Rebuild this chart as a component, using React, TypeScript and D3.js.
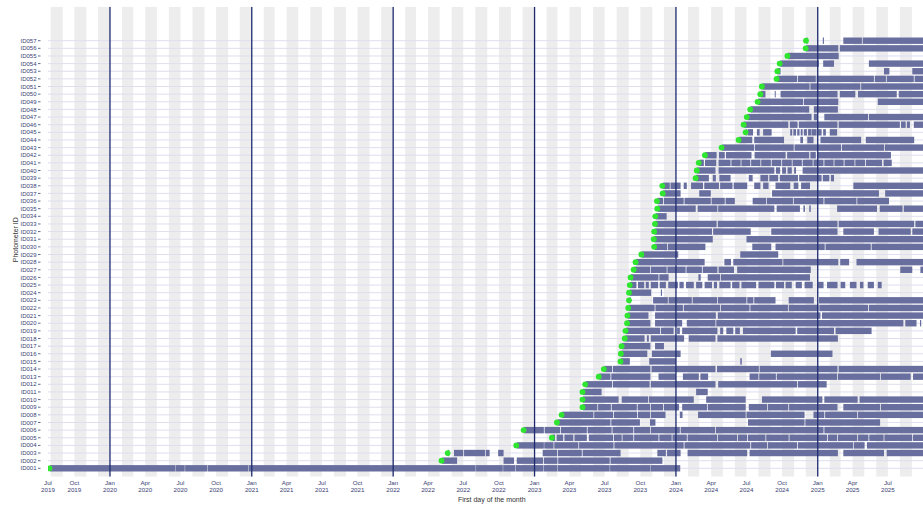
import React from "react";
import * as d3 from "d3";

type Seg = [string, string];

const ID_LABELS = [
  "ID001","ID002","ID003","ID004","ID005","ID006","ID007","ID008","ID009","ID010",
  "ID011","ID012","ID013","ID014","ID015","ID016","ID017","ID018","ID019","ID020",
  "ID021","ID022","ID023","ID024","ID025","ID026","ID027","ID028","ID029","ID030",
  "ID031","ID032","ID033","ID034","ID035","ID036","ID037","ID038","ID039","ID040",
  "ID041","ID042","ID043","ID044","ID045","ID046","ID047","ID048","ID049","ID050",
  "ID051","ID052","ID053","ID054","ID055","ID056","ID057",
];

const ID001: Seg[] = [["2019-07-30","2020-06-16"],["2020-06-18","2020-07-11"],["2020-07-13","2020-09-07"],["2020-09-09","2020-12-22"],["2020-12-24","2022-08-01"],["2022-08-03","2022-10-10"],["2022-10-12","2022-11-11"],["2022-11-13","2023-01-22"],["2023-01-24","2023-02-28"],["2023-03-02","2023-07-13"],["2023-07-15","2023-10-25"],["2023-10-27","2024-01-11"]];
const ID002: Seg[] = [["2022-05-07","2022-06-14"],["2022-10-13","2022-11-08"],["2022-11-16","2023-01-22"],["2023-01-25","2023-02-28"],["2023-03-03","2023-07-13"],["2023-07-16","2023-11-26"]];
const ID003: Seg[] = [["2022-05-23","2022-05-24"],["2022-06-07","2022-06-30"],["2022-07-03","2022-08-25"],["2022-08-28","2022-09-06"],["2022-09-29","2022-10-12"],["2023-01-22","2023-02-27"],["2023-03-02","2023-05-02"],["2023-05-05","2023-08-10"],["2023-11-14","2023-12-05"],["2023-12-09","2024-01-12"],["2024-01-31","2024-07-02"],["2024-07-09","2025-02-21"],["2025-03-08","2025-06-20"],["2025-06-28","2025-09-30"]];
const ID004: Seg[] = [["2022-11-16","2023-01-24"],["2023-01-26","2023-02-18"],["2023-02-21","2023-04-23"],["2023-04-26","2023-07-23"],["2023-07-26","2024-01-20"],["2024-01-23","2024-07-10"],["2024-07-13","2024-08-22"],["2024-08-25","2024-11-08"],["2024-11-11","2025-04-01"],["2025-04-04","2025-05-01"],["2025-05-08","2025-09-30"]];
const ID005: Seg[] = [["2023-02-16","2023-02-22"],["2023-02-27","2023-03-15"],["2023-03-19","2023-04-10"],["2023-04-14","2023-05-15"],["2023-05-21","2023-07-22"],["2023-07-25","2023-08-13"],["2023-08-16","2023-09-12"],["2023-09-15","2023-11-16"],["2023-11-19","2023-12-20"],["2023-12-23","2024-01-28"],["2024-01-31","2024-04-15"],["2024-04-18","2024-06-06"],["2024-06-09","2024-07-02"],["2024-07-05","2024-08-18"],["2024-08-21","2024-10-17"],["2024-10-20","2025-01-24"],["2025-01-27","2025-02-19"],["2025-02-22","2025-04-12"],["2025-04-15","2025-05-11"],["2025-05-14","2025-06-19"],["2025-06-22","2025-09-01"],["2025-09-04","2025-09-30"]];
const ID006: Seg[] = [["2022-12-05","2023-01-24"],["2023-01-27","2023-03-07"],["2023-03-10","2023-05-15"],["2023-05-18","2023-07-18"],["2023-07-21","2023-09-12"],["2023-09-15","2023-10-25"],["2023-10-28","2024-01-10"],["2024-01-13","2024-04-10"],["2024-04-13","2025-01-15"],["2025-01-18","2025-09-30"]];
const ID007: Seg[] = [["2023-03-01","2023-07-15"],["2023-07-18","2023-09-29"],["2023-10-26","2023-11-08"],["2024-07-05","2024-11-27"],["2024-11-30","2025-06-10"]];
const ID008: Seg[] = [["2023-03-13","2023-06-01"],["2023-06-04","2023-07-22"],["2023-07-25","2023-09-22"],["2023-09-25","2023-10-25"],["2023-10-28","2023-12-04"],["2024-01-11","2024-01-17"],["2024-02-27","2024-06-28"],["2024-07-01","2024-11-27"],["2024-12-21","2025-01-17"],["2025-01-20","2025-04-12"],["2025-04-15","2025-09-30"]];
const ID009: Seg[] = [["2023-05-06","2023-06-11"],["2023-06-14","2023-07-16"],["2023-07-19","2023-09-21"],["2023-09-24","2023-10-25"],["2023-10-28","2023-11-28"],["2023-12-01","2024-01-08"],["2024-01-17","2024-03-20"],["2024-03-23","2024-06-28"],["2024-07-07","2024-08-22"],["2024-08-25","2024-10-16"],["2024-10-19","2025-02-20"],["2025-03-08","2025-06-10"],["2025-06-13","2025-09-30"]];
const ID010: Seg[] = [["2023-05-06","2023-08-05"],["2023-08-14","2023-10-20"],["2023-10-23","2024-02-15"],["2024-03-19","2024-06-28"],["2024-08-10","2025-01-12"],["2025-01-18","2025-04-13"],["2025-04-19","2025-09-30"]];
const ID011: Seg[] = [["2023-05-06","2023-06-22"],["2024-02-22","2024-03-22"]];
const ID012: Seg[] = [["2023-05-13","2023-07-19"],["2023-07-22","2023-10-24"],["2023-10-28","2024-04-11"],["2024-04-19","2024-11-08"],["2024-11-11","2025-01-23"]];
const ID013: Seg[] = [["2023-06-17","2023-07-15"],["2023-07-18","2023-10-26"],["2023-11-17","2023-12-31"],["2024-01-19","2024-02-28"],["2024-03-04","2024-03-23"],["2024-07-09","2024-07-31"],["2024-08-03","2024-09-14"],["2024-09-17","2025-02-19"],["2025-02-22","2025-06-10"],["2025-06-13","2025-08-28"],["2025-09-04","2025-09-30"]];
const ID014: Seg[] = [["2023-06-30","2023-07-19"],["2023-07-22","2023-10-26"],["2023-10-30","2024-04-11"],["2024-04-16","2024-08-01"],["2024-08-04","2025-02-20"],["2025-02-24","2025-09-30"]];
const ID015: Seg[] = [["2023-08-12","2023-09-03"],["2023-10-24","2023-12-31"],["2024-06-15","2024-06-18"]];
const ID016: Seg[] = [["2023-08-13","2023-10-18"],["2023-10-31","2024-01-12"],["2024-09-02","2025-02-07"]];
const ID017: Seg[] = [["2023-08-15","2023-10-26"],["2023-11-08","2023-11-30"]];
const ID018: Seg[] = [["2023-08-23","2023-10-11"],["2023-10-18","2023-10-22"],["2023-10-28","2024-01-21"],["2024-02-03","2024-04-11"],["2024-04-17","2025-02-21"]];
const ID019: Seg[] = [["2023-08-25","2023-11-20"],["2023-11-23","2023-12-25"],["2024-01-04","2024-01-10"],["2024-01-17","2024-04-16"],["2024-04-24","2024-05-01"],["2024-05-10","2024-05-27"],["2024-06-02","2024-06-13"],["2024-06-22","2024-11-04"],["2024-11-09","2025-02-11"],["2025-02-16","2025-05-19"]];
const ID020: Seg[] = [["2023-08-29","2023-10-26"],["2023-11-08","2024-01-16"],["2024-01-29","2024-04-11"],["2024-04-14","2025-08-09"],["2025-08-15","2025-09-12"],["2025-09-22","2025-09-24"]];
const ID021: Seg[] = [["2023-08-30","2023-10-21"],["2023-11-08","2024-04-12"],["2024-04-18","2025-01-07"],["2025-01-12","2025-09-30"]];
const ID022: Seg[] = [["2023-09-01","2023-11-06"],["2023-11-09","2024-01-18"],["2024-01-21","2024-04-23"],["2024-04-26","2024-07-08"],["2024-07-11","2024-10-15"],["2024-10-18","2025-01-02"],["2025-01-05","2025-05-10"],["2025-05-13","2025-09-30"]];
const ID023: Seg[] = [["2023-09-03","2023-09-04"],["2023-11-03","2023-12-10"],["2023-12-13","2024-02-10"],["2024-02-13","2024-04-15"],["2024-04-18","2024-06-30"],["2024-07-03","2024-07-18"],["2024-07-21","2024-09-13"],["2024-10-18","2024-12-21"],["2025-01-04","2025-09-30"]];
const ID024: Seg[] = [["2023-09-03","2023-10-28"],["2023-11-23","2023-11-25"]];
const ID025: Seg[] = [["2023-09-05","2023-09-20"],["2023-09-25","2023-10-10"],["2023-10-15","2023-10-22"],["2023-10-28","2023-11-15"],["2023-11-20","2023-12-05"],["2023-12-12","2024-01-05"],["2024-01-10","2024-01-20"],["2024-01-27","2024-02-15"],["2024-02-22","2024-03-08"],["2024-03-15","2024-04-02"],["2024-04-08","2024-04-15"],["2024-04-22","2024-05-20"],["2024-05-25","2024-06-12"],["2024-06-18","2024-07-25"],["2024-08-01","2024-09-10"],["2024-09-15","2024-10-05"],["2024-10-10","2024-10-25"],["2024-11-05","2024-11-20"],["2024-11-28","2024-12-18"],["2025-01-02","2025-01-15"],["2025-01-25","2025-02-20"],["2025-03-01","2025-03-12"],["2025-03-25","2025-04-10"],["2025-04-20","2025-04-28"],["2025-05-10","2025-05-25"],["2025-06-05","2025-06-14"]];
const ID026: Seg[] = [["2023-09-07","2023-11-16"],["2023-11-19","2023-12-12"],["2024-02-28","2024-03-04"],["2024-03-23","2024-04-23"],["2024-04-26","2024-12-11"]];
const ID027: Seg[] = [["2023-09-15","2023-10-25"],["2023-10-28","2023-12-07"],["2023-12-10","2024-01-25"],["2024-01-28","2024-03-07"],["2024-03-10","2024-04-16"],["2024-04-20","2024-05-29"],["2024-06-07","2024-12-13"],["2025-08-02","2025-09-01"],["2025-09-23","2025-09-30"]];
const ID028: Seg[] = [["2023-09-20","2023-12-29"],["2024-01-02","2024-03-14"],["2024-05-05","2024-05-21"],["2024-05-28","2024-10-01"],["2024-10-04","2025-02-22"],["2025-02-28","2025-03-22"],["2025-04-11","2025-09-30"]];
const ID029: Seg[] = [["2023-10-05","2024-01-06"],["2024-06-15","2024-09-20"]];
const ID030: Seg[] = [["2023-11-07","2023-12-08"],["2023-12-11","2024-03-16"],["2024-07-16","2024-09-02"],["2024-09-14","2025-01-18"],["2025-01-21","2025-05-17"],["2025-05-20","2025-09-30"]];
const ID031: Seg[] = [["2023-11-06","2024-04-04"],["2024-07-01","2025-09-30"]];
const ID032: Seg[] = [["2023-11-07","2024-04-02"],["2024-04-06","2024-07-11"],["2024-09-03","2025-02-20"],["2025-03-08","2025-05-25"],["2025-06-07","2025-08-28"],["2025-09-02","2025-09-30"]];
const ID033: Seg[] = [["2023-11-09","2024-04-14"],["2024-04-18","2025-02-20"],["2025-02-24","2025-09-06"],["2025-09-10","2025-09-30"]];
const ID034: Seg[] = [["2023-11-10","2023-12-07"]];
const ID035: Seg[] = [["2023-11-15","2024-02-20"],["2024-02-26","2024-04-16"],["2024-04-19","2024-09-10"],["2024-09-17","2024-11-15"],["2024-11-25","2024-11-28"],["2024-12-10","2024-12-13"],["2025-02-20","2025-06-02"],["2025-06-10","2025-08-07"],["2025-08-11","2025-09-30"]];
const ID036: Seg[] = [["2023-11-14","2023-11-28"],["2023-12-01","2024-01-20"],["2024-01-23","2024-03-30"],["2024-04-02","2024-05-05"],["2024-05-08","2024-05-31"],["2024-07-17","2024-08-20"],["2024-08-23","2024-10-28"],["2024-10-31","2025-01-15"],["2025-01-18","2025-04-10"],["2025-04-13","2025-07-03"]];
const ID037: Seg[] = [["2023-11-29","2024-01-12"],["2024-03-01","2024-03-30"],["2024-09-05","2025-06-07"],["2025-06-24","2025-09-30"]];
const ID038: Seg[] = [["2023-11-28","2023-12-15"],["2023-12-18","2024-01-12"],["2024-01-21","2024-01-28"],["2024-02-09","2024-03-10"],["2024-03-14","2024-04-20"],["2024-04-24","2024-05-25"],["2024-05-29","2024-07-02"],["2024-07-21","2024-08-05"],["2024-08-13","2024-08-26"],["2024-09-14","2024-10-21"],["2024-10-31","2024-11-11"],["2024-11-19","2024-12-11"],["2025-04-03","2025-09-30"]];
const ID039: Seg[] = [["2024-02-22","2024-03-25"],["2024-04-05","2024-04-12"],["2024-04-22","2024-05-20"],["2024-07-07","2024-07-16"],["2024-08-06","2024-08-25"],["2024-08-29","2024-09-20"],["2024-09-25","2024-11-10"],["2024-11-14","2025-01-10"],["2025-01-14","2025-01-30"],["2025-02-04","2025-02-11"]];
const ID040: Seg[] = [["2024-02-25","2024-04-11"],["2024-04-20","2024-09-10"],["2024-09-15","2024-09-25"],["2024-10-01","2024-10-10"],["2024-10-15","2024-10-25"],["2024-11-01","2024-11-05"],["2024-11-23","2025-09-30"]];
const ID041: Seg[] = [["2024-03-01","2024-03-12"],["2024-03-16","2024-04-13"],["2024-04-20","2024-05-20"],["2024-05-23","2024-06-15"],["2024-06-18","2024-07-10"],["2024-07-13","2024-08-05"],["2024-08-08","2024-09-01"],["2024-09-04","2024-09-28"],["2024-10-01","2024-10-25"],["2024-10-28","2024-11-20"],["2024-11-23","2024-12-18"],["2024-12-21","2025-01-15"],["2025-01-18","2025-02-10"],["2025-02-13","2025-03-08"],["2025-03-11","2025-04-05"],["2025-04-08","2025-05-02"],["2025-05-05","2025-06-15"],["2025-06-20","2025-07-10"]];
const ID042: Seg[] = [["2024-03-17","2024-04-14"],["2024-04-21","2024-05-05"],["2024-05-09","2024-07-13"],["2024-07-22","2024-10-09"],["2024-10-14","2024-12-09"],["2024-12-13","2024-12-26"],["2025-01-01","2025-07-08"]];
const ID043: Seg[] = [["2024-04-29","2024-07-20"],["2024-07-23","2024-10-30"],["2024-11-02","2025-03-01"],["2025-03-04","2025-06-20"],["2025-06-23","2025-09-30"]];
const ID044: Seg[] = [["2024-06-12","2024-07-15"],["2024-07-21","2024-10-05"],["2024-11-17","2024-11-23"],["2024-12-05","2024-12-20"],["2025-01-08","2025-04-22"],["2025-05-05","2025-09-06"]];
const ID045: Seg[] = [["2024-06-30","2024-07-01"],["2024-07-04","2024-07-17"],["2024-07-28","2024-08-03"],["2024-08-13","2024-09-03"],["2024-10-22","2024-10-26"],["2024-10-30","2024-11-05"],["2024-11-09","2024-11-14"],["2024-11-18","2024-11-22"],["2024-11-26","2024-12-03"],["2024-12-07","2024-12-14"],["2024-12-16","2024-12-28"],["2025-01-02","2025-01-10"],["2025-01-15","2025-01-21"],["2025-02-01","2025-02-19"]];
const ID046: Seg[] = [["2024-06-25","2024-10-16"],["2024-10-21","2024-11-09"],["2024-11-13","2025-02-20"],["2025-02-24","2025-07-31"],["2025-08-04","2025-08-15"],["2025-08-19","2025-08-26"],["2025-09-06","2025-09-30"]];
const ID047: Seg[] = [["2024-07-03","2024-12-15"],["2024-12-22","2024-12-30"],["2025-01-18","2025-05-10"],["2025-05-13","2025-09-30"]];
const ID048: Seg[] = [["2024-07-12","2024-12-09"],["2024-12-22","2025-02-21"]];
const ID049: Seg[] = [["2024-07-31","2024-11-23"],["2024-11-26","2025-02-22"],["2025-06-05","2025-09-30"]];
const ID050: Seg[] = [["2024-08-07","2024-08-18"],["2024-09-12","2024-09-13"],["2024-09-27","2025-02-20"],["2025-02-27","2025-04-07"],["2025-04-15","2025-07-23"],["2025-07-29","2025-09-30"]];
const ID051: Seg[] = [["2024-08-11","2024-12-10"],["2024-12-13","2025-04-20"],["2025-04-23","2025-09-30"]];
const ID052: Seg[] = [["2024-09-18","2024-11-08"],["2024-11-11","2024-12-26"],["2024-12-29","2025-05-25"],["2025-05-28","2025-06-25"],["2025-06-28","2025-09-05"],["2025-09-08","2025-09-30"]];
const ID053: Seg[] = [["2024-09-20","2024-09-26"],["2025-06-21","2025-07-04"],["2025-09-02","2025-09-30"]];
const ID054: Seg[] = [["2024-09-26","2025-01-03"],["2025-01-15","2025-02-11"],["2025-05-13","2025-09-30"]];
const ID055: Seg[] = [["2024-10-16","2025-02-23"]];
const ID056: Seg[] = [["2024-12-02","2025-02-22"],["2025-02-27","2025-09-30"]];
const ID057: Seg[] = [["2024-12-03","2024-12-04"],["2025-01-14","2025-01-16"],["2025-03-08","2025-04-24"],["2025-04-27","2025-09-30"]];

const SERIES: Seg[][] = [
  ID001,ID002,ID003,ID004,ID005,ID006,ID007,ID008,ID009,ID010,
  ID011,ID012,ID013,ID014,ID015,ID016,ID017,ID018,ID019,ID020,
  ID021,ID022,ID023,ID024,ID025,ID026,ID027,ID028,ID029,ID030,
  ID031,ID032,ID033,ID034,ID035,ID036,ID037,ID038,ID039,ID040,
  ID041,ID042,ID043,ID044,ID045,ID046,ID047,ID048,ID049,ID050,
  ID051,ID052,ID053,ID054,ID055,ID056,ID057,
];

const TICK_DATES = [
  "2019-07-01","2019-10-01","2020-01-01","2020-04-01","2020-07-01","2020-10-01",
  "2021-01-01","2021-04-01","2021-07-01","2021-10-01","2022-01-01","2022-04-01",
  "2022-07-01","2022-10-01","2023-01-01","2023-04-01","2023-07-01","2023-10-01",
  "2024-01-01","2024-04-01","2024-07-01","2024-10-01","2025-01-01","2025-04-01",
  "2025-07-01",
];
const YEAR_LINES = ["2020-01-01","2021-01-01","2022-01-01","2023-01-01","2024-01-01","2025-01-01"];
const X_DOMAIN = ["2019-07-25", "2025-10-01"];

const W = 923;
const H = 505;
const PANEL = { left: 48, right: 923.5, top: 6.7, bottom: 476.7 };
const BAR_COLOR = "#686f9f";
const DOT_COLOR = "#2fe52f";
const LINE_COLOR = "#1d2a6e";
const TEXT_COLOR = "#3a4274";

export default function App() {
  const parse = d3.utcParse("%Y-%m-%d");
  const x = d3
    .scaleUtc()
    .domain(X_DOMAIN.map((d) => parse(d) as Date))
    .range([PANEL.left, PANEL.right])
    .clamp(true);
  const y = d3
    .scalePoint<string>()
    .domain(ID_LABELS)
    .range([468.3, 40.7]);
  const fmtMon = d3.utcFormat("%b");
  const fmtYear = d3.utcFormat("%Y");

  const months = d3.utcMonth.range(d3.utcMonth.floor(parse("2019-07-01") as Date), parse("2025-10-01") as Date);
  const stripes = months.filter((m) => m.getUTCMonth() % 2 === 1);

  const barH = 6.4;

  return (
    <svg
      width={W}
      height={H}
      viewBox={`0 0 ${W} ${H}`}
      style={{ position: "absolute", left: 0, top: 0, background: "#ffffff" }}
      fontFamily="'Liberation Sans', Arial, sans-serif"
    >
      <defs>
        <clipPath id="panel">
          <rect x={PANEL.left} y={PANEL.top} width={PANEL.right - PANEL.left} height={PANEL.bottom - PANEL.top} />
        </clipPath>
      </defs>
      <g clipPath="url(#panel)">
        {stripes.map((m, i) => {
          const x0 = x(m);
          const x1 = x(d3.utcMonth.offset(m, 1));
          return (
            <rect key={i} x={x0} y={PANEL.top} width={Math.max(0, x1 - x0)} height={PANEL.bottom - PANEL.top} fill="#ededed" />
          );
        })}
        {ID_LABELS.map((id) => (
          <line key={id} x1={PANEL.left} x2={PANEL.right} y1={y(id)} y2={y(id)} stroke="#dedeef" strokeWidth={1} />
        ))}
        {SERIES.map((segs, i) =>
          segs.map(([s, e], j) => {
            const x0 = x(parse(s) as Date);
            const x1 = x(d3.utcDay.offset(parse(e) as Date, 1));
            return (
              <rect
                key={`${i}-${j}`}
                x={x0}
                y={(y(ID_LABELS[i]) as number) - barH / 2}
                width={Math.max(1, x1 - x0)}
                height={barH}
                fill={BAR_COLOR}
              />
            );
          })
        )}
        {YEAR_LINES.map((d) => {
          const xx = x(parse(d) as Date);
          return <line key={d} x1={xx} x2={xx} y1={PANEL.top} y2={PANEL.bottom} stroke={LINE_COLOR} strokeWidth={1.3} />;
        })}
        {SERIES.map((segs, i) => (
          <circle
            key={`dot-${i}`}
            cx={x(parse(segs[0][0]) as Date) - 0.5}
            cy={y(ID_LABELS[i]) as number}
            r={2.9}
            fill={DOT_COLOR}
          />
        ))}
      </g>

      {ID_LABELS.map((id) => (
        <g key={`yl-${id}`}>
          <text x={36.5} y={y(id)} dy="0.35em" textAnchor="end" fontSize={6} fill={TEXT_COLOR}>
            {id}
          </text>
          <line x1={38} x2={40.5} y1={y(id)} y2={y(id)} stroke={TEXT_COLOR} strokeWidth={0.8} />
        </g>
      ))}

      {TICK_DATES.map((d) => {
        const dt = parse(d) as Date;
        const xx = x(dt);
        return (
          <text key={d} x={xx} y={484.8} textAnchor="middle" fontSize={6.2} fill={TEXT_COLOR}>
            <tspan x={xx}>{fmtMon(dt)}</tspan>
            <tspan x={xx} dy={6.7}>{fmtYear(dt)}</tspan>
          </text>
        );
      })}

      <text x={(PANEL.left + PANEL.right) / 2 + 6} y={502} textAnchor="middle" fontSize={7} fill="#333">
        First day of the month
      </text>
      <text
        transform={`translate(15.5, ${(PANEL.top + PANEL.bottom) / 2 - 2}) rotate(-90)`}
        textAnchor="middle"
        dy="0.35em"
        fontSize={7}
        fill="#333"
      >
        Photometer ID
      </text>
    </svg>
  );
}
